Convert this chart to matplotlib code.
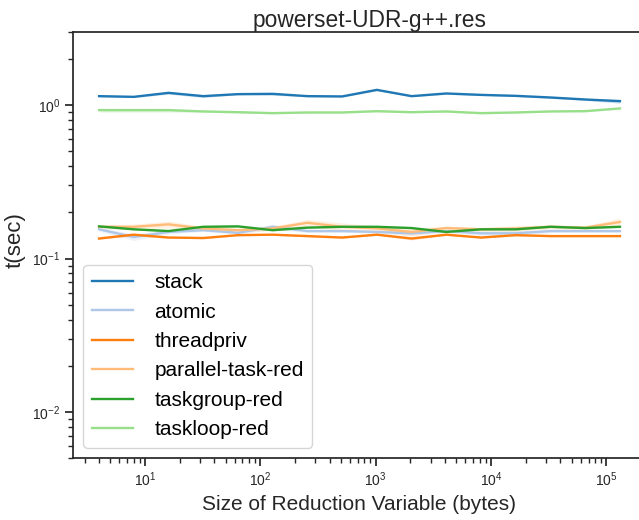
import matplotlib
matplotlib.use("Agg")
import matplotlib.pyplot as plt
import numpy as np

plt.rcParams["font.family"] = ["Liberation Sans", "DejaVu Sans"]
plt.rcParams["mathtext.fontset"] = "custom"
plt.rcParams["mathtext.rm"] = "Liberation Sans"
plt.rcParams["mathtext.it"] = "Liberation Sans:italic"
plt.rcParams["mathtext.bf"] = "Liberation Sans:bold"

# Size of the reduction variable in bytes (2^2 .. 2^17)
sizes = [4, 8, 16, 32, 64, 128, 256, 512, 1024, 2048, 4096, 8192,
         16384, 32768, 65536, 131072]

labels = ["stack", "atomic", "threadpriv", "parallel-task-red",
          "taskgroup-red", "taskloop-red"]
colors = ["#1f77b4", "#aec7e8", "#ff7f0e", "#ffbb78", "#2ca02c", "#98df8a"]

# Mean run time (seconds)
stack = [1.145, 1.133, 1.203, 1.145, 1.180, 1.185, 1.145, 1.140, 1.258,
         1.145, 1.192, 1.167, 1.150, 1.122, 1.089, 1.062]
atomic = [0.155, 0.138, 0.149, 0.153, 0.147, 0.161, 0.151, 0.151, 0.149,
          0.146, 0.151, 0.146, 0.146, 0.151, 0.151, 0.151]
threadpriv = [0.135, 0.143, 0.137, 0.136, 0.142, 0.143, 0.140, 0.137, 0.143,
              0.135, 0.143, 0.137, 0.142, 0.140, 0.140, 0.140]
parallel_task_red = [0.161, 0.161, 0.167, 0.157, 0.153, 0.157, 0.171, 0.161,
                     0.157, 0.149, 0.158, 0.155, 0.157, 0.161, 0.159, 0.173]
taskgroup_red = [0.162, 0.155, 0.151, 0.161, 0.162, 0.153, 0.159, 0.161,
                 0.161, 0.158, 0.149, 0.155, 0.155, 0.161, 0.158, 0.161]
taskloop_red = [0.928, 0.928, 0.928, 0.910, 0.900, 0.887, 0.896, 0.896,
                0.914, 0.900, 0.910, 0.887, 0.896, 0.910, 0.914, 0.952]

# Relative half-width of the confidence band around each mean
stack_ci = [0.010, 0.010, 0.020, 0.020, 0.010, 0.020, 0.010, 0.010, 0.012,
            0.010, 0.012, 0.010, 0.010, 0.012, 0.015, 0.030]
atomic_ci = [0.030, 0.050, 0.030, 0.020, 0.020, 0.040, 0.020, 0.020, 0.020,
             0.030, 0.020, 0.030, 0.040, 0.020, 0.020, 0.020]
threadpriv_ci = [0.010, 0.015, 0.010, 0.010, 0.010, 0.010, 0.010, 0.010, 0.010,
                 0.020, 0.010, 0.010, 0.010, 0.010, 0.010, 0.010]
parallel_ci = [0.030, 0.040, 0.050, 0.030, 0.030, 0.030, 0.050, 0.060, 0.040,
               0.060, 0.030, 0.030, 0.040, 0.030, 0.030, 0.060]
taskgroup_ci = [0.010, 0.010, 0.015, 0.010, 0.010, 0.010, 0.010, 0.010, 0.010,
                0.010, 0.010, 0.010, 0.010, 0.010, 0.010, 0.010]
taskloop_ci = [0.030, 0.030, 0.030, 0.015, 0.015, 0.010, 0.010, 0.010, 0.015,
               0.010, 0.015, 0.010, 0.010, 0.010, 0.010, 0.010]

series = [stack, atomic, threadpriv, parallel_task_red, taskgroup_red, taskloop_red]
bands = [stack_ci, atomic_ci, threadpriv_ci, parallel_ci, taskgroup_ci, taskloop_ci]

fig = plt.figure(figsize=(6.39, 5.2), dpi=100)
ax = fig.add_axes([73 / 639, 62 / 520, 573 / 639, 426 / 520])

for name, col, vals, ci in zip(labels, colors, series, bands):
    v = np.asarray(vals)
    c = np.asarray(ci)
    ax.fill_between(sizes, v * (1 - c), v * (1 + c), color=col, alpha=0.22, lw=0)
    ax.plot(sizes, v, color=col, lw=1.7, label=name)

ax.set_xscale("log")
ax.set_yscale("log")
ax.set_ylim(0.005, 3)

for side in ["left", "bottom", "top", "right"]:
    ax.spines[side].set_color("#262626")
    ax.spines[side].set_linewidth(1.25)

ax.tick_params(which="major", length=5.5, width=1.25, color="#262626",
               labelsize=10, labelcolor="#262626")
ax.tick_params(which="minor", length=3.3, width=1.0, color="#262626")

ax.set_xlabel("Size of Reduction Variable (bytes)", fontsize=15, color="#262626")
ax.set_ylabel("t(sec)", fontsize=16, color="#262626")
ax.yaxis.set_label_coords(-0.082, 0.512)
fig.text(369.7 / 639, 1 - 26.7 / 520, "powerset-UDR-g++.res", fontsize=16.4,
         ha="center", va="baseline", color="#262626")

leg = ax.legend(loc="lower left", fontsize=15, handlelength=2.0,
                handletextpad=1.0, labelspacing=0.5, borderaxespad=0.5,
                frameon=True, fancybox=True)
leg.get_frame().set_edgecolor("#cccccc")
for line in leg.get_lines():
    line.set_linewidth(1.7)

fig.savefig("out.png", dpi=100)
